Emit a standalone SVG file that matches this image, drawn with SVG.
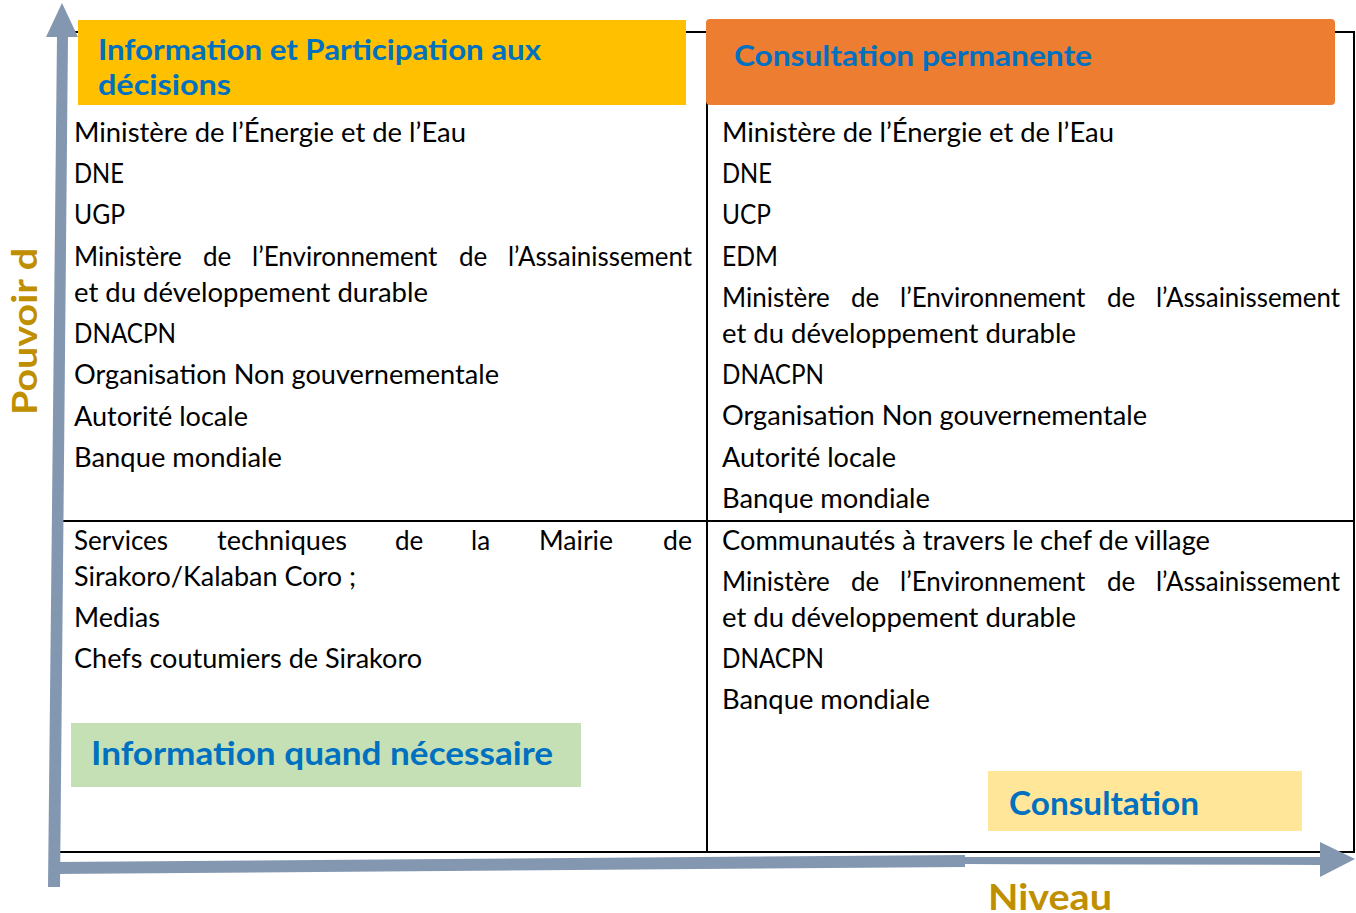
<svg xmlns="http://www.w3.org/2000/svg" width="1356" height="913" viewBox="0 0 1356 913">
  <style>
    .grid { stroke: #000; stroke-width: 2; fill: none; }
    .axis { fill: #8497B0; }
    .body { font-family: Lato, "Open Sans", sans-serif; font-size: 26px; fill: #000; }
    .head { font-family: Lato, "Liberation Sans", sans-serif; font-weight: 700; fill: #0070C0; }
    .axislabel { font-family: Lato, "Liberation Sans", sans-serif; font-weight: 700; fill: #BF8F00; }
  </style>

  <rect width="1356" height="913" fill="#fff"/>

  <!-- table grid -->
  <g id="grid">
    <line class="grid" x1="60" y1="32" x2="1355" y2="32"/>
    <line class="grid" x1="1354" y1="32" x2="1354" y2="852"/>
    <line class="grid" x1="707" y1="32" x2="707" y2="852"/>
    <line class="grid" x1="60" y1="521" x2="1355" y2="521"/>
    <line class="grid" x1="60" y1="852" x2="1355" y2="852"/>
  </g>

  <!-- quadrant headers -->
  <g id="hdr-info-participation">
    <rect x="78" y="20" width="608" height="85" fill="#FFC000"/>
    <text class="head" x="98" y="60" font-size="28" textLength="443" lengthAdjust="spacingAndGlyphs">Information et Participation aux</text>
    <text class="head" x="98" y="95" font-size="28" textLength="133" lengthAdjust="spacingAndGlyphs">décisions</text>
  </g>

  <g id="hdr-consultation-permanente">
    <rect x="706" y="19" width="629" height="86" rx="4" fill="#ED7D31"/>
    <text class="head" x="734" y="66" font-size="28" textLength="358" lengthAdjust="spacingAndGlyphs">Consultation permanente</text>
  </g>

  <!-- top-left quadrant -->
  <g id="q-top-left" class="body">
    <text x="74" y="142" textLength="392" lengthAdjust="spacingAndGlyphs">Ministère de l’Énergie et de l’Eau</text>
    <text x="74" y="183" textLength="50" lengthAdjust="spacingAndGlyphs">DNE</text>
    <text x="74" y="224" textLength="51" lengthAdjust="spacingAndGlyphs">UGP</text>
    <!-- justified line: words placed individually -->
    <text x="74" y="266">Ministère</text>
    <text x="203" y="266">de</text>
    <text x="252" y="266">l’Environnement</text>
    <text x="459" y="266">de</text>
    <text x="508" y="266" textLength="184" lengthAdjust="spacingAndGlyphs">l’Assainissement</text>
    <text x="74" y="302" textLength="354" lengthAdjust="spacingAndGlyphs">et du développement durable</text>
    <text x="74" y="343" textLength="102" lengthAdjust="spacingAndGlyphs">DNACPN</text>
    <text x="74" y="384" textLength="425" lengthAdjust="spacingAndGlyphs">Organisation Non gouvernementale</text>
    <text x="74" y="426" textLength="174" lengthAdjust="spacingAndGlyphs">Autorité locale</text>
    <text x="74" y="467" textLength="208" lengthAdjust="spacingAndGlyphs">Banque mondiale</text>
  </g>

  <!-- top-right quadrant -->
  <g id="q-top-right" class="body">
    <text x="722" y="142" textLength="392" lengthAdjust="spacingAndGlyphs">Ministère de l’Énergie et de l’Eau</text>
    <text x="722" y="183" textLength="50" lengthAdjust="spacingAndGlyphs">DNE</text>
    <text x="722" y="224" textLength="49" lengthAdjust="spacingAndGlyphs">UCP</text>
    <text x="722" y="266" textLength="56" lengthAdjust="spacingAndGlyphs">EDM</text>
    <text x="722" y="307">Ministère</text>
    <text x="851" y="307">de</text>
    <text x="900" y="307">l’Environnement</text>
    <text x="1107" y="307">de</text>
    <text x="1156" y="307" textLength="184" lengthAdjust="spacingAndGlyphs">l’Assainissement</text>
    <text x="722" y="343" textLength="354" lengthAdjust="spacingAndGlyphs">et du développement durable</text>
    <text x="722" y="384" textLength="102" lengthAdjust="spacingAndGlyphs">DNACPN</text>
    <text x="722" y="425" textLength="425" lengthAdjust="spacingAndGlyphs">Organisation Non gouvernementale</text>
    <text x="722" y="467" textLength="174" lengthAdjust="spacingAndGlyphs">Autorité locale</text>
    <text x="722" y="508" textLength="208" lengthAdjust="spacingAndGlyphs">Banque mondiale</text>
  </g>

  <!-- bottom-left quadrant -->
  <g id="q-bottom-left" class="body">
    <text x="74" y="550">Services</text>
    <text x="217" y="550" textLength="130" lengthAdjust="spacingAndGlyphs">techniques</text>
    <text x="395" y="550">de</text>
    <text x="471" y="550">la</text>
    <text x="539" y="550" textLength="74" lengthAdjust="spacingAndGlyphs">Mairie</text>
    <text x="663" y="550" textLength="29" lengthAdjust="spacingAndGlyphs">de</text>
    <text x="74" y="586" textLength="282" lengthAdjust="spacingAndGlyphs">Sirakoro/Kalaban Coro ;</text>
    <text x="74" y="627" textLength="86" lengthAdjust="spacingAndGlyphs">Medias</text>
    <text x="74" y="668" textLength="348" lengthAdjust="spacingAndGlyphs">Chefs coutumiers de Sirakoro</text>
  </g>

  <g id="hdr-info-necessaire">
    <rect x="71" y="723" width="510" height="64" fill="#C5E0B4"/>
    <text class="head" x="91" y="765" font-size="32" textLength="462" lengthAdjust="spacingAndGlyphs">Information quand nécessaire</text>
  </g>

  <!-- bottom-right quadrant -->
  <g id="q-bottom-right" class="body">
    <text x="722" y="550" textLength="488" lengthAdjust="spacingAndGlyphs">Communautés à travers le chef de village</text>
    <text x="722" y="591">Ministère</text>
    <text x="851" y="591">de</text>
    <text x="900" y="591">l’Environnement</text>
    <text x="1107" y="591">de</text>
    <text x="1156" y="591" textLength="184" lengthAdjust="spacingAndGlyphs">l’Assainissement</text>
    <text x="722" y="627" textLength="354" lengthAdjust="spacingAndGlyphs">et du développement durable</text>
    <text x="722" y="668" textLength="102" lengthAdjust="spacingAndGlyphs">DNACPN</text>
    <text x="722" y="709" textLength="208" lengthAdjust="spacingAndGlyphs">Banque mondiale</text>
  </g>

  <g id="hdr-consultation">
    <rect x="988" y="771" width="314" height="60" fill="#FFE699"/>
    <text class="head" x="1009" y="815" font-size="33" textLength="190" lengthAdjust="spacingAndGlyphs">Consultation</text>
  </g>

  <!-- axes -->
  <g id="connectors">
    <polygon class="axis" points="57,36 68,36 60,887 48,887"/>
    <polygon class="axis" points="46,37 62,3 78,37"/>
    <polygon class="axis" points="54,862 965,855 965,857 1320,857 1320,842 1355,859 1320,877 1320,865 965,864 965,867 54,874"/>
  </g>

  <g id="label-pouvoir">
    <text class="axislabel" font-size="35" transform="translate(37,415) rotate(-90)" textLength="167" lengthAdjust="spacingAndGlyphs">Pouvoir d</text>
  </g>
  <g id="label-niveau">
    <text class="axislabel" x="988" y="910" font-size="36" textLength="124" lengthAdjust="spacingAndGlyphs">Niveau</text>
  </g>
</svg>
